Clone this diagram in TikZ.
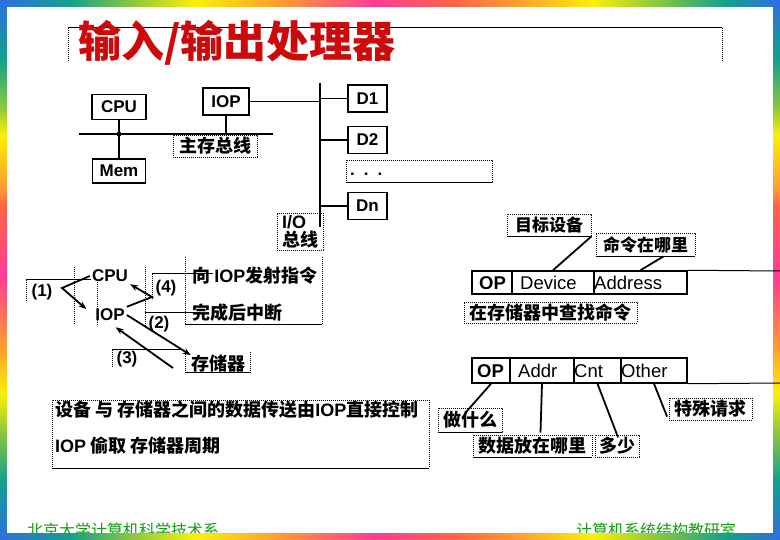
\documentclass[tikz,border=0pt]{standalone}
\usepackage{fontspec}
\setmainfont{Liberation Sans}
\newfontfamily\cjk{Noto Sans CJK SC}
\newcommand\latf{\rmfamily}
\usetikzlibrary{arrows.meta}
\definecolor{rbblue}{HTML}{2F6EE0}
\definecolor{rbteal}{HTML}{14A08C}
\definecolor{rbgreen}{HTML}{8CC83C}
\definecolor{rbyellow}{HTML}{FAF00A}
\definecolor{rborange}{HTML}{FF9A30}
\definecolor{rbred}{HTML}{FF6446}
\definecolor{rbpink}{HTML}{FF3C96}
\definecolor{titred}{HTML}{CC0A0A}
\definecolor{footgreen}{HTML}{10A010}
\pgfdeclarehorizontalshading{rainh}{100bp}{color(0bp)=(rbblue); color(25bp)=(rbblue); color(29.5bp)=(rbteal); color(33.5bp)=(rbgreen); color(37.5bp)=(rbyellow); color(43bp)=(rborange); color(49bp)=(rbpink); color(54bp)=(rbred); color(58bp)=(rborange); color(63bp)=(rbyellow); color(67bp)=(rbgreen); color(71.5bp)=(rbteal); color(75bp)=(rbblue); color(100bp)=(rbblue)}
\pgfdeclareverticalshading{rainv}{100bp}{color(0bp)=(rbblue); color(25bp)=(rbblue); color(30.5bp)=(rbteal); color(35bp)=(rbgreen); color(38.5bp)=(rbyellow); color(43bp)=(rborange); color(49.5bp)=(rbpink); color(56bp)=(rbred); color(57.5bp)=(rborange); color(62.5bp)=(rbyellow); color(65bp)=(rbgreen); color(69.5bp)=(rbteal); color(75bp)=(rbblue); color(100bp)=(rbblue)}
\tikzset{
  box/.style={draw,line width=1.5pt,inner sep=0pt,font=\bfseries\fontsize{17}{17}\selectfont},
  fld/.style={draw,line width=1.5pt,inner sep=0pt},
  en/.style={inner sep=2pt,font=\bfseries\fontsize{17}{17}\selectfont},
  zh/.style={inner sep=0pt,font=\cjk\bfseries\fontsize{18}{18}\selectfont},
  fr/.style={draw,line width=0.8pt,dash pattern=on 0.8pt off 1.2pt},
  ln/.style={line width=1.8pt},
  bus/.style={line width=2.4pt},
  arr/.style={line width=1.8pt,-{Stealth[length=8pt,width=6pt]}},
}
\begin{document}
\begin{tikzpicture}[x=1pt,y=-1pt]
\useasboundingbox (0,0) rectangle (780,540);
\fill[white] (0,0) rectangle (780,540);
\node[anchor=west,inner sep=0pt,text=footgreen,font=\cjk\fontsize{16}{16}\selectfont] (dept) at (27,530) {北京大学计算机科学技术系};
\node[anchor=west,inner sep=0pt,text=footgreen,font=\cjk\fontsize{16}{16}\selectfont] (lab) at (576,530) {计算机系统结构教研室};
\shade[shading=rainh] (0,0) rectangle (780,6.5);
\shade[shading=rainh] (0,533.5) rectangle (780,540);
\shade[shading=rainv] (0,0) rectangle (6.5,540);
\shade[shading=rainv] (773.5,0) rectangle (780,540);

\draw[fr] (68,61) -- (68,28);
\draw[line width=1pt] (68,28) -- (722,28);
\draw[fr] (722,28) -- (722,61);
\node[anchor=west,inner sep=0pt,text=titred,font=\cjk\bfseries\fontsize{43}{43}\selectfont] (title) at (78,43) {输入/输出处理器};

\node[box,minimum width=54pt,minimum height=25pt] (cpu) at (119,107) {CPU};
\node[box,minimum width=46pt,minimum height=27pt] (iop) at (226,101.5) {IOP};
\node[box,minimum width=53pt,minimum height=24pt] (mem) at (119,171) {Mem};
\coordinate (busl) at (79,134);
\coordinate (busr) at (273,134);
\draw[bus] (busl) -- (busr);
\draw[ln] (cpu) -- (mem);
\fill (cpu.south |- busl) circle (2.4pt);
\draw[ln] (iop.south) -- (iop.south |- busl);
\node[fr,zh,minimum width=84pt,minimum height=22pt] (mbus) at (215,146) {主存总线};
\coordinate (iot) at (320,83);
\coordinate (iob) at (320,227);
\draw[bus] (iot) -- (iob);
\draw[ln] (iop.east) -- (iop.east -| iot);
\foreach \n/\t/\y in {d1/D1/98.5,d2/D2/140,dn/Dn/206}{
  \node[box,minimum width=39pt,minimum height=27pt] (\n) at (367.5,\y) {\t};
  \draw[ln] (\n.west) -- (\n.west -| iot);}
\node[fr,minimum width=146pt,minimum height=22pt] (dotsfr) at (419,171) {};
\draw[line width=1pt] (dotsfr.south west) -- (dotsfr.south east);
\node[anchor=west,inner sep=0pt,font=\bfseries\fontsize{17}{17}\selectfont] (dots) at (350,174) {.\hspace{9pt}.\hspace{9pt}.};
\node[fr,zh,align=left,minimum width=46pt,minimum height=37pt] (iolab) at (300,231.5) {{\latf I/O}\\总线};

\node[en] (cpu2) at (110,276) {CPU};
\node[en] (iop2) at (110,315) {IOP};
\node[en] (s1) at (42,292) {(1)};
\node[en] (s4) at (166,288) {(4)};
\node[en] (s2) at (159,324) {(2)};
\node[en] (s3) at (127,359) {(3)};
\node[zh,anchor=west] (cmd) at (192,276) {向 {\latf IOP}发射指令};
\node[zh,anchor=west] (intr) at (192,313) {完成后中断};
\node[zh] (mem2) at (218,364) {存储器};
\draw[line width=1pt] (26,280) -- (91,280);
\draw[fr] (26,280) -- (26,302);
\draw[fr] (74,267) -- (74,325);
\draw[fr] (97,280) -- (97,325);
\draw[fr] (145,267) -- (145,327);
\draw[line width=1pt] (152,274) -- (213,274);
\draw[fr] (152,274) -- (152,300);
\draw[fr] (185,257) -- (185,325);
\draw[fr] (322,257) -- (322,325);
\draw[line width=1pt] (185,325) -- (322,325);
\draw[line width=1pt] (145,313) -- (200,313);
\draw[line width=1pt] (112,350) -- (182,350);
\draw[fr] (112,350) -- (112,367);
\draw[fr] (185,352) -- (185,373);
\draw[fr] (250,352) -- (250,373);
\draw[line width=1pt] (185,373) -- (250,373);
\coordinate (k1) at (62,288);
\coordinate (k4) at (152,297);
\coordinate (m3) at (173,368);
\draw[arr,shorten >=9pt] (cpu2.west) -- (k1) -- (iop2.west);
\draw[arr] (iop2.north east) -- (k4) -- (cpu2.south east);
\draw[arr] (iop2.east) -- (mem2.north west);
\draw[arr,shorten >=7pt] (m3) -- (iop2.south);

\node[fr,zh,font=\cjk\bfseries\fontsize{17}{17}\selectfont,minimum width=84pt,minimum height=22pt] (tgt) at (549,225) {目标设备};
\draw[line width=1pt] (tgt.south west) -- (tgt.south east);
\node[fr,zh,font=\cjk\bfseries\fontsize{17}{17}\selectfont,minimum width=99pt,minimum height=23pt] (where) at (645.5,244.5) {命令在哪里};
\draw[line width=1pt] (where.south west) -- (where.south east);
\foreach \n/\x/\w/\tx/\t in {op1/492/40/479/{\bfseries OP},dev/553/82/520/Device,adr/640.5/93/594/Address}{
  \node[fld,minimum width=\w pt,minimum height=23pt] (\n) at (\x,282.5) {};
  \node[anchor=west,inner sep=0pt,font=\fontsize{18.5}{18.5}\selectfont] (\n-t) at (\tx,283) {\t};}
\coordinate (rt1) at (780,271);
\draw[line width=1pt] (adr.north east) -- (rt1);
\draw[ln] (tgt.south east) -- (dev.north);
\draw[ln] ([xshift=18pt]where.south) -- (adr.north);
\node[fr,zh,minimum width=173pt,minimum height=21pt] (search) at (550.5,312.5) {在存储器中查找命令};
\foreach \n/\x/\w/\tx/\t in {op2/491/38/477/{\bfseries OP},addr/542/64/518/Addr,cnt/597.5/47/574/Cnt,oth/654/66/621/Other}{
  \node[fld,minimum width=\w pt,minimum height=25pt] (\n) at (\x,370.5) {};
  \node[anchor=west,inner sep=0pt,font=\fontsize{18.5}{18.5}\selectfont] (\n-t) at (\tx,371) {\t};}
\coordinate (rt2) at (780,383);
\draw[line width=1pt] (oth.south east) -- (rt2);
\node[fr,zh,minimum width=64pt,minimum height=24pt] (what) at (470,420) {做什么};
\draw[line width=1pt] (what.south west) -- (what.south east);
\node[fr,zh,minimum width=119pt,minimum height=22pt] (data) at (532.5,446) {数据放在哪里};
\draw[line width=1pt] (data.south west) -- (data.south east);
\node[fr,zh,minimum width=44pt,minimum height=22pt] (few) at (617,446) {多少};
\node[fr,zh,minimum width=83pt,minimum height=22pt] (spec) at (710.5,409) {特殊请求};
\draw[ln,shorten >=-7pt] (op2.south) -- (what.north);
\draw[ln] (addr.south) -- ([xshift=8pt,yshift=2pt]data.north);
\draw[ln,shorten >=-3pt] (cnt.south) -- (few.north);
\draw[ln,shorten >=4pt] (oth.south) -- (spec.south west);

\node[fr,minimum width=377pt,minimum height=68pt] (note) at (240.5,434) {};
\draw[line width=1pt] (note.south west) -- (note.south east);
\node[zh,anchor=west] (l1) at (55,410) {设备 与 存储器之间的数据传送由{\latf IOP}直接控制};
\node[zh,anchor=west] (l2) at (55,446) {{\latf IOP} 偷取 存储器周期};
\end{tikzpicture}
\end{document}
